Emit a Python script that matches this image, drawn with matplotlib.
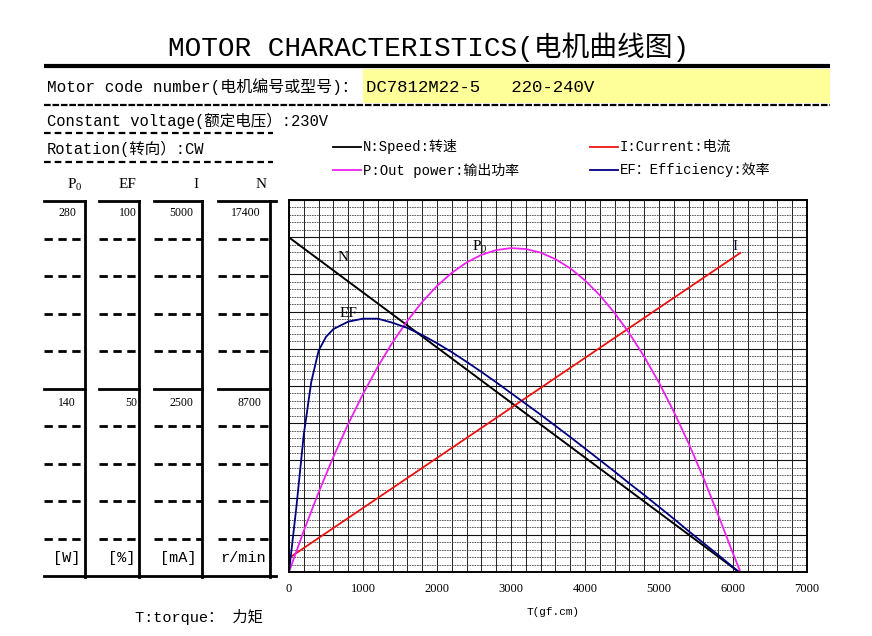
"""Motor characteristic sheet: speed, current, output power and efficiency vs torque."""

import matplotlib
matplotlib.use("Agg")
import matplotlib.pyplot as plt
from matplotlib.patches import Rectangle
import numpy as np

# ── Data ────────────────────────────────────────────────────────────────
torque = [0, 200, 400, 600, 800, 1000, 1200, 1400, 1600, 1800, 2000,
          2200, 2400, 2600, 2800, 3000, 3200, 3400, 3600, 3800, 4000,
          4200, 4400, 4600, 4800, 5000, 5200, 5400, 5600, 5800, 6000, 6100]
power_w = [0, 31.0, 59.9, 86.7, 111.4, 134.0, 154.5, 172.9, 189.1, 203.3, 215.3,
           225.2, 233.0, 238.7, 242.3, 243.8, 243.1, 240.4, 235.5, 228.6, 219.5,
           208.3, 195.0, 179.6, 162.1, 142.5, 120.7, 96.9, 70.9, 42.9, 14.0, 0]
eff_torque = [0, 100, 200, 300, 400, 500, 600, 800, 1000, 1200, 1400, 1600,
              1800, 2000, 2200, 2400, 2600, 2800, 3000, 3200, 3400, 3600,
              3800, 4000, 4200, 4400, 4600, 4800, 5000, 5200, 5400, 5600,
              5800, 6000, 6080]
eff_pct = [0, 17.5, 37.0, 51.0, 59.5, 63.2, 65.3, 67.3, 68.1, 68.1, 67.0, 65.6,
           63.7, 61.5, 59.1, 56.5, 53.8, 51.0, 48.1, 45.2, 42.3, 39.3,
           36.3, 33.2, 30.1, 27.0, 23.8, 20.7, 17.5, 14.3, 11.0, 7.8,
           4.6, 1.3, 0]
speed_torque = [0, 6080]
speed_rpm = [15650, 0]
current_torque = [0, 6100]
current_ma = [188, 4290]

scale_heads = ["$\\mathregular{P_0}$", "EF", "I", "N"]
scale_max = [280, 100, 5000, 17400]
scale_mid = [140, 50, 2500, 8700]
scale_units = ["[W]", "[%]", "[mA]", "r/min"]
x_ticks = [0, 1000, 2000, 3000, 4000, 5000, 6000, 7000]

# ── Style ───────────────────────────────────────────────────────────────
MONO = ["Liberation Mono", "Noto Sans CJK SC"]
SERIF = ["Liberation Serif", "Noto Sans CJK SC"]
C_N = "black"
C_I = "#ee1111"
C_P = "#ee22ee"
C_EF = "#000080"

fig = plt.figure(figsize=(8.72, 6.36), dpi=100)

# background axes in pixel coordinates for the sheet decoration
bg = fig.add_axes([0, 0, 1, 1])
bg.set_xlim(0, 872)
bg.set_ylim(636, 0)
bg.axis("off")

bg.text(429, 47, "MOTOR CHARACTERISTICS(电机曲线图)", family=MONO,
        fontsize=20, ha="center", va="center")
bg.plot([44, 830], [66, 66], color="black", lw=3, solid_capstyle="butt")
bg.add_patch(Rectangle((363, 69), 467, 34, facecolor="#ffff99", edgecolor="none"))
bg.plot([44, 830], [104.5, 104.5], color="black", lw=1.6, ls=(0, (3, 0.8)))
bg.text(47, 87, "Motor code number(电机编号或型号)：", family=MONO,
        fontsize=11.5, ha="left", va="center")
bg.text(366, 87, "DC7812M22-5   220-240V", family=MONO,
        fontsize=12.5, ha="left", va="center")
bg.text(47, 121, "Constant voltage(额定电压）:230V", family=MONO,
        fontsize=11.2, ha="left", va="center")
bg.plot([44, 273], [133, 133], color="black", lw=1.6, ls=(0, (3, 1.8)))
bg.text(47, 149, "Rotation(转向）:CW", family=MONO,
        fontsize=11.2, ha="left", va="center")
bg.plot([44, 273], [162, 162], color="black", lw=1.6, ls=(0, (3, 1.8)))

# left scale table
col_left = [44, 99, 154, 218]
col_right = [85, 139, 202, 270]
num_right = [76, 137, 193, 261]
unit_right = [80, 135, 196, 266]
t_top, t_bot = 201, 576
row_h = (t_bot - t_top) / 10
for k in range(4):
    l, r = col_left[k], col_right[k]
    bg.text(r - 3, 185, scale_heads[k], family=SERIF, fontsize=11,
            ha="right", va="center")
    bg.plot([l, r + (6 if k == 3 else 0)], [t_top, t_top], color="black", lw=2)
    bg.plot([l, r], [t_top + 5 * row_h] * 2, color="black", lw=2)
    for j in (1, 2, 3, 4, 6, 7, 8, 9):
        bg.plot([l, r], [t_top + j * row_h] * 2, color="black", lw=2,
                ls=(0, (3, 2)))
    bg.plot([r, r], [t_top, t_bot + 1], color="black", lw=2)
    bg.text(num_right[k], t_top + 12, str(scale_max[k]), family=SERIF,
            fontsize=8.5, ha="right", va="center")
    bg.text(num_right[k], t_top + 5 * row_h + 15, str(scale_mid[k]),
            family=SERIF, fontsize=8.5, ha="right", va="center")
    bg.text(unit_right[k], 558, scale_units[k], family=MONO, fontsize=11,
            ha="right", va="center")
bg.plot([44, 276], [t_bot, t_bot], color="black", lw=2)

# legend
legend_items = [("N:Speed:转速", C_N, 333, 147),
                ("I:Current:电流", C_I, 590, 147),
                ("P:Out power:输出功率", C_P, 333, 170),
                ("EF：Efficiency:效率", C_EF, 590, 170)]
for label, color, x0, y0 in legend_items:
    bg.plot([x0, x0 + 28], [y0, y0], color=color, lw=1.3)
    bg.text(x0 + 30, y0, label, family=MONO, fontsize=10, ha="left", va="center")

bg.text(553, 612, "T(gf.cm)", family=MONO, fontsize=8, ha="center", va="center")
bg.text(135, 617, "T:torque： 力矩", family=MONO, fontsize=11,
        ha="left", va="center")

# ── Main chart ──────────────────────────────────────────────────────────
ax = fig.add_axes([289 / 872, 64 / 636, 518 / 872, 372 / 636])
ax.set_facecolor("none")
ax.set_xlim(0, 7000)
ax.set_ylim(0, 1)

ax.set_xticks(x_ticks)
ax.set_xticklabels([str(t) for t in x_ticks], family=SERIF, fontsize=9)
ax.set_xticks(np.arange(0, 7001, 200), minor=True)
ax.set_yticks(np.linspace(0, 1, 11))
ax.set_yticks(np.linspace(0, 1, 51), minor=True)
ax.set_yticklabels([])
ax.tick_params(which="both", length=0)
ax.tick_params(axis="x", pad=8)
ax.grid(which="both", axis="x", color="#222222", lw=0.7)
ax.grid(which="major", axis="y", color="#111111", lw=0.8)
ax.grid(which="minor", axis="y", color="#444444", lw=0.6, ls=(0, (2, 1)))
ax.set_axisbelow(True)
for sp in ax.spines.values():
    sp.set_linewidth(1.4)

ax.plot(speed_torque, np.array(speed_rpm) / scale_max[3], color=C_N, lw=1.4)
ax.plot(current_torque, np.array(current_ma) / scale_max[2], color=C_I, lw=1.3)
ax.plot(torque, np.array(power_w) / scale_max[0], color=C_P, lw=1.3)
ax.plot(eff_torque, np.array(eff_pct) / scale_max[1], color=C_EF, lw=1.3)

ax.text(730, 0.845, "N", family=SERIF, fontsize=11, ha="center", va="center")
ax.text(800, 0.694, "EF", family=SERIF, fontsize=11, ha="center", va="center")
ax.text(2580, 0.873, "$\\mathregular{P_0}$", family=SERIF, fontsize=11,
        ha="center", va="center")
ax.text(6030, 0.876, "I", family=SERIF, fontsize=11, ha="center",
        va="center", color="#101030")

fig.savefig("out.png", dpi=100)
plt.close(fig)
